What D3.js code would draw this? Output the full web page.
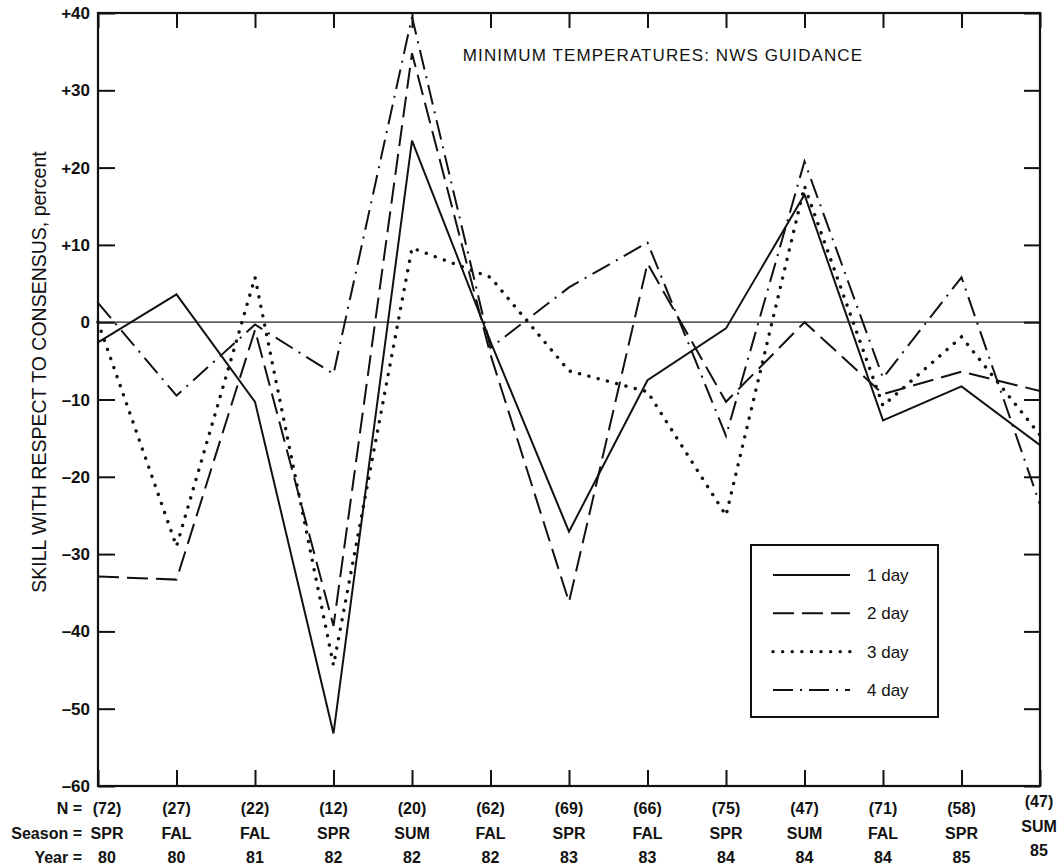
<!DOCTYPE html>
<html>
<head>
<meta charset="utf-8">
<title>Minimum temperatures: NWS guidance</title>
<script src="https://cdn.jsdelivr.net/npm/d3@7"></script>
<style>
  body { margin: 0; background: #fff; }
  svg { display: block; font-family: "Liberation Sans", Arial, sans-serif; }
  .cat { font-size: 16px; font-weight: bold; fill: #111; }
</style>
</head>
<body>
<svg id="chart" width="1062" height="865"></svg>
<script>
// categories along the bottom
var nCount  = ['(72)','(27)','(22)','(12)','(20)','(62)','(69)','(66)','(75)','(47)','(71)','(58)','(47)'];
var seasons = ['SPR','FAL','FAL','SPR','SUM','FAL','SPR','FAL','SPR','SUM','FAL','SPR','SUM'];
var years   = ['80','80','81','82','82','82','83','83','84','84','84','85','85'];

// skill, percent
var day1 = [-2.6,  3.6, -10.3, -53.2, 23.5, -2.5, -27.1, -7.5, -0.8, 16.5, -12.7, -8.3, -15.9];
var day2 = [-32.9, -33.3, -1.0, -39.3, 34.8, -4.2, -36.2,  7.6, -10.3,  0.0, -9.3, -6.4, -8.9];
var day3 = [ 0.0, -29.0,  5.8, -44.4,  9.6,  5.8, -6.3, -9.0, -25.0, 17.6, -10.8, -1.9, -14.6];
var day4 = [ 2.5,  -9.5, -0.3,  -6.7, 39.5, -3.3,  4.5, 10.3, -14.7, 20.8, -7.2,  5.8, -23.6];

var yTicks = [40,30,20,10,0,-10,-20,-30,-40,-50,-60];
var seriesNames = ['1 day','2 day','3 day','4 day'];

(function() {
  var series = [
    {name: seriesNames[0], values: day1, dash: null, width: 2, cap: 'butt'},
    {name: seriesNames[1], values: day2, dash: '21,8', width: 2, cap: 'butt'},
    {name: seriesNames[2], values: day3, dash: '0.1,9.5', width: 3.4, cap: 'round'},
    {name: seriesNames[3], values: day4, dash: '20,7,2,7', width: 2, cap: 'butt'}
  ];

  var svg = d3.select('#chart');
  var mLeft = 98, mRight = 1040, mTop = 13, mBottom = 786;

  var x = d3.scalePoint().domain(d3.range(nCount.length)).range([mLeft, mRight]);
  var y = d3.scaleLinear().domain([-60, 40]).range([mBottom, mTop]);

  function fmt(d) {
    if (d > 0) return '+' + d;
    if (d < 0) return '\u2013' + Math.abs(d);
    return '0';
  }

  // zero line
  svg.append('line')
    .attr('x1', mLeft).attr('x2', mRight)
    .attr('y1', y(0)).attr('y2', y(0))
    .attr('stroke', '#222').attr('stroke-width', 1.2);

  // axes (ticks pointing inward on all four sides)
  var gl = svg.append('g').attr('transform', 'translate(' + mLeft + ',0)')
    .call(d3.axisRight(y).tickValues(yTicks).tickSize(17).tickFormat(''));
  var gr = svg.append('g').attr('transform', 'translate(' + mRight + ',0)')
    .call(d3.axisLeft(y).tickValues(yTicks).tickSize(16).tickFormat(''));
  var gt = svg.append('g').attr('transform', 'translate(0,' + mTop + ')')
    .call(d3.axisBottom(x).tickSize(15).tickFormat(''));
  var gb = svg.append('g').attr('transform', 'translate(0,' + mBottom + ')')
    .call(d3.axisTop(x).tickSize(16).tickFormat(''));
  [gl, gr, gt, gb].forEach(function(g) {
    g.select('.domain').remove();
    g.selectAll('.tick line').attr('stroke', '#111').attr('stroke-width', 2);
  });

  svg.append('rect')
    .attr('x', mLeft).attr('y', mTop)
    .attr('width', mRight - mLeft).attr('height', mBottom - mTop)
    .attr('fill', 'none').attr('stroke', '#111').attr('stroke-width', 2.2);

  // y tick labels
  svg.selectAll('.ylab')
    .data(yTicks)
    .enter()
    .append('text')
    .attr('class', 'cat ylab')
    .attr('x', 90)
    .attr('y', function(d) { return y(d) + 6; })
    .attr('text-anchor', 'end')
    .style('font-size', '17px')
    .text(fmt);

  // y axis title
  svg.append('text')
    .attr('transform', 'translate(46,372) rotate(-90)')
    .attr('text-anchor', 'middle')
    .style('font-size', '19.5px')
    .style('fill', '#111')
    .text('SKILL WITH RESPECT TO CONSENSUS, percent');

  // bottom category labels
  var rows = [nCount, seasons, years];
  var rowY = [814, 839, 863];
  var prefix = ['N =', 'Season =', 'Year ='];
  rows.forEach(function(arr, r) {
    svg.selectAll('.row' + r)
      .data(arr)
      .enter()
      .append('text')
      .attr('class', 'cat row' + r)
      .attr('x', function(d, i) { return i === 0 ? x(i) + 9 : (i === arr.length - 1 ? x(i) - 1 : x(i)); })
      .attr('y', function(d, i) { return i === arr.length - 1 ? rowY[r] - 7 : rowY[r]; })
      .attr('text-anchor', 'middle')
      .text(function(d) { return d; });
    svg.append('text')
      .attr('class', 'cat')
      .attr('x', 82)
      .attr('y', rowY[r])
      .attr('text-anchor', 'end')
      .text(prefix[r]);
  });

  // title
  svg.append('text')
    .attr('x', 663).attr('y', 61)
    .attr('text-anchor', 'middle')
    .style('font-size', '17px')
    .style('letter-spacing', '1.1px')
    .style('fill', '#111')
    .text('MINIMUM TEMPERATURES: NWS GUIDANCE');

  // lines
  var line = d3.line()
    .x(function(d, i) { return x(i); })
    .y(function(d) { return y(d); });

  svg.selectAll('.series')
    .data(series)
    .enter()
    .append('path')
    .attr('class', 'series')
    .attr('d', function(s) { return line(s.values); })
    .attr('fill', 'none')
    .attr('stroke', '#111')
    .attr('stroke-width', function(s) { return s.width; })
    .attr('stroke-linecap', function(s) { return s.cap; })
    .attr('stroke-linejoin', 'miter')
    .attr('stroke-dasharray', function(s) { return s.dash; });

  // legend
  var lg = svg.append('g').attr('transform', 'translate(751,545)');
  lg.append('rect')
    .attr('width', 187).attr('height', 172)
    .attr('fill', '#fff').attr('stroke', '#111').attr('stroke-width', 2);
  var ly = d3.scalePoint().domain(seriesNames).range([30, 145]);
  var items = lg.selectAll('.item')
    .data(series)
    .enter()
    .append('g')
    .attr('class', 'item')
    .attr('transform', function(s) { return 'translate(0,' + ly(s.name) + ')'; });
  items.append('line')
    .attr('x1', 22).attr('x2', 99)
    .attr('stroke', '#111')
    .attr('stroke-width', function(s) { return s.width; })
    .attr('stroke-linecap', function(s) { return s.cap; })
    .attr('stroke-dasharray', function(s) { return s.dash; });
  items.append('text')
    .attr('x', 116).attr('y', 6)
    .style('font-size', '17px')
    .style('fill', '#111')
    .text(function(s) { return s.name; });
})();
</script>
</body>
</html>
